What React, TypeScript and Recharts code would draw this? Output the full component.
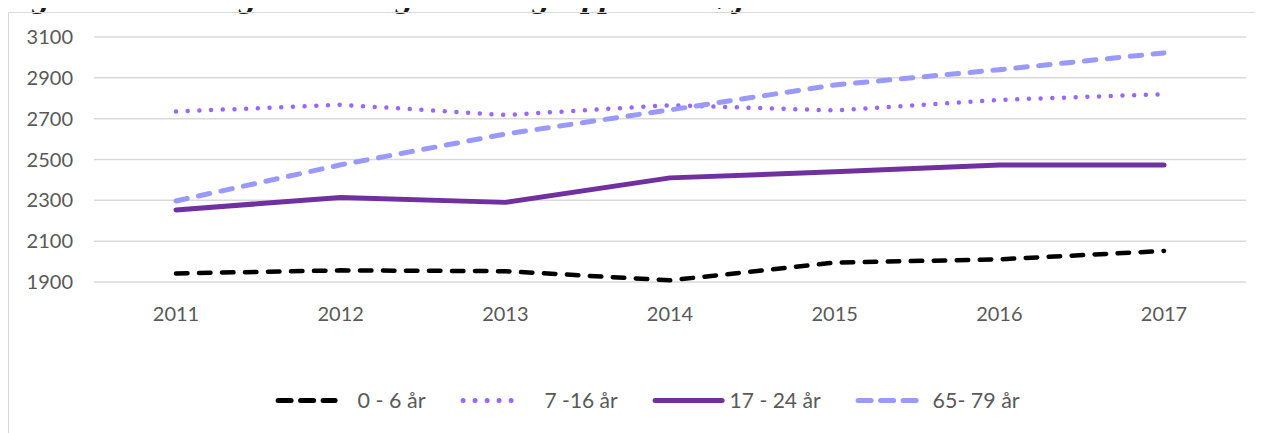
import { LineChart, Line, XAxis, YAxis, CartesianGrid, Legend } from "recharts";

// Figur 5 – udvalgte aldersgrupper, Ishøj Kommune 2011-2017

const TITLE = "Figur 5 Udviklingen i udvalgte aldersgrupper i Ishøj Kommune 2011-2017";

const YEARS = ["2011", "2012", "2013", "2014", "2015", "2016", "2017"];
const Y_TICKS = [1900, 2100, 2300, 2500, 2700, 2900, 3100];

const AGE_0_6 = [1942, 1957, 1953, 1908, 1995, 2011, 2052];
const AGE_7_16 = [2735, 2768, 2718, 2766, 2740, 2792, 2820];
const AGE_17_24 = [2253, 2314, 2290, 2410, 2440, 2473, 2473];
const AGE_65_79 = [2297, 2474, 2625, 2743, 2865, 2940, 3022];

const SERIES_NAMES = ["0 - 6 år", "7 -16 år", "17 - 24 år", "65- 79 år"];

const SERIES = [
  { key: "a", name: SERIES_NAMES[0], values: AGE_0_6, color: "#000000", width: 4.5, dash: "11.5 11.5" },
  { key: "b", name: SERIES_NAMES[1], values: AGE_7_16, color: "#9966FF", width: 4.5, dash: "0 11.7" },
  { key: "c", name: SERIES_NAMES[2], values: AGE_17_24, color: "#7030A0", width: 5, dash: undefined },
  { key: "d", name: SERIES_NAMES[3], values: AGE_65_79, color: "#9999FF", width: 5, dash: "11.5 11.5" },
];

// legend look (sample length, dash, gap before text, text width)
const LEGEND_STYLE = [
  { sample: 62, dash: "13 9.5", lw: 5, gap: 20, textW: 68 },
  { sample: 65, dash: "0 12", lw: 5, gap: 19, textW: 73 },
  { sample: 72, dash: undefined, lw: 5, gap: 5, textW: 91 },
  { sample: 64, dash: "13 9.5", lw: 5, gap: 13, textW: 87 },
];

const data = YEARS.map((year, i) => {
  const row: Record<string, string | number> = { year };
  SERIES.forEach((s) => {
    row[s.key] = s.values[i];
  });
  return row;
});

const FONT = "Lato, 'Open Sans', sans-serif";
const LABEL = "#595959";

function LegendContent() {
  let x = 267.6;
  const cy = 22.5;
  const items = SERIES.map((s, i) => {
    const st = LEGEND_STYLE[i];
    const x0 = x;
    const x1 = x0 + st.sample;
    const tx = x1 + st.gap;
    x = tx + st.textW + 35;
    const r = st.lw / 2;
    return (
      <g key={s.key}>
        <line
          x1={x0 + r}
          x2={x1 - r}
          y1={cy}
          y2={cy}
          stroke={s.color}
          strokeWidth={st.lw}
          strokeLinecap="round"
          strokeDasharray={st.dash}
        />
        <text
          x={tx}
          y={cy}
          dy="0.35em"
          fontFamily={FONT}
          fontSize={22}
          fill={LABEL}
          textLength={st.textW}
          lengthAdjust="spacingAndGlyphs"
        >
          {s.name}
        </text>
      </g>
    );
  });
  return (
    <svg width={1255} height={45} style={{ display: "block" }}>
      {items}
    </svg>
  );
}

export default function App() {
  return (
    <div style={{ position: "relative", width: 1255, height: 425, overflow: "hidden", margin: "-8px 0 0 0", paddingTop: 8 }}>
      <style>{`body{overflow:hidden}`}</style>
      <svg width={1263} height={14} style={{ position: "absolute", left: -8, top: 0 }}>
        <text
          x={0}
          y={8}
          fontFamily="'Liberation Serif', serif"
          fontWeight="bold"
          fontStyle="italic"
          fontSize={29}
          fill="#1a1a1a"
          textLength={1057}
          lengthAdjust="spacingAndGlyphs"
        >
          {TITLE}
        </text>
      </svg>
      <div
        style={{
          position: "absolute",
          left: 0,
          top: 12,
          width: 1300,
          height: 500,
          borderLeft: "1.5px solid #d9d9d9",
          borderTop: "1.5px solid #d9d9d9",
          boxSizing: "border-box",
        }}
      />
      <div style={{ position: "absolute", left: 0, top: 12 }}>
        <LineChart width={1255} height={420} data={data} margin={{ top: 25, right: 17, bottom: 75, left: 0 }}>
          <CartesianGrid vertical={false} stroke="#d9d9d9" strokeWidth={1.5} />
          <XAxis
            dataKey="year"
            axisLine={false}
            tickLine={false}
            tickSize={0}
            tickMargin={25}
            height={30}
            padding={{ left: 82, right: 82 }}
            tick={{ fontFamily: FONT, fontSize: 20, fill: LABEL }}
          />
          <YAxis
            type="number"
            domain={[1900, 3100]}
            ticks={Y_TICKS}
            interval={0}
            axisLine={false}
            tickLine={false}
            tickSize={0}
            tickMargin={21}
            width={86}
            tick={{ fontFamily: FONT, fontSize: 20, fill: LABEL }}
          />
          <Legend verticalAlign="bottom" content={<LegendContent />} wrapperStyle={{ top: 366, left: 0, width: 1255, height: 45 }} />
          {SERIES.map((s) => (
            <Line
              key={s.key}
              dataKey={s.key}
              name={s.name}
              type="linear"
              stroke={s.color}
              strokeWidth={s.width}
              strokeDasharray={s.dash}
              strokeLinecap="round"
              strokeLinejoin="round"
              dot={false}
              activeDot={false}
              isAnimationActive={false}
            />
          ))}
        </LineChart>
      </div>
    </div>
  );
}
